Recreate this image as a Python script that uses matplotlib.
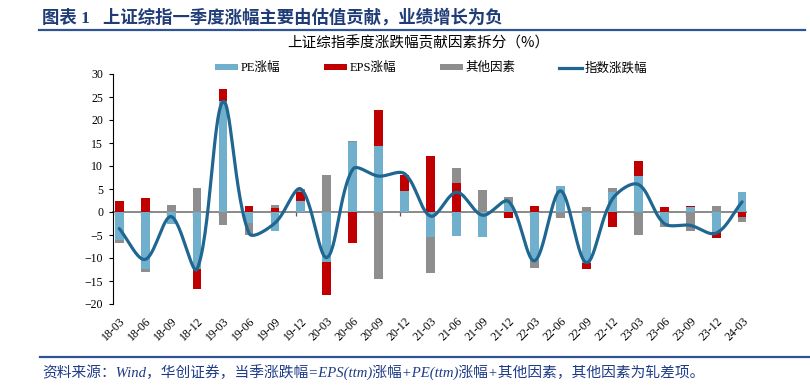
#!/usr/bin/env python3
"""
上证综指季度涨跌幅贡献因素拆分 - stacked bars + smoothed index line
"""

import numpy as np
import matplotlib
matplotlib.use('Agg')
import matplotlib.pyplot as plt
from matplotlib.lines import Line2D
from matplotlib.patches import Patch
from matplotlib.font_manager import FontProperties

# Quarter labels
quarters = ['18-03', '18-06', '18-09', '18-12', '19-03', '19-06', '19-09', '19-12',
            '20-03', '20-06', '20-09', '20-12', '21-03', '21-06', '21-09', '21-12',
            '22-03', '22-06', '22-09', '22-12', '23-03', '23-06', '23-09', '23-12',
            '24-03']

# Contribution of each factor (%)
pe_chg = [-6.1, -12.4, -2.5, -12.4, 24.2, -2.3, -4.1, 2.3, -10.8, 15.2, 14.3, 4.5,
          -5.4, -5.2, -5.5, 2.0, -10.7, 5.7, -11.0, 4.3, 7.9, -2.4, 1.0, -4.3, 4.3]
eps_chg = [2.5, 3.0, 0.1, -4.4, 2.6, 1.3, 0.8, 2.1, -7.3, -6.7, 7.9, 3.5,
           12.2, 6.2, 0.0, -1.3, 1.4, 0.0, -1.3, -3.3, 3.2, 1.0, 0.2, -1.3, -1.1]
other_chg = [-0.6, -0.7, 1.5, 5.2, -2.9, -2.6, 0.7, 0.5, 8.1, 0.2, -14.5, 0.0,
             -7.8, 3.3, 4.8, 1.3, -1.4, -1.3, 1.1, 1.0, -5.1, -0.8, -4.2, 1.2, -1.1]
index_chg = [-3.6, -10.3, -1.0, -12.4, 24.0, -4.6, -2.4, 5.0, -9.9, 9.3, 7.8, 8.3,
             -0.9, 4.3, -0.7, 2.3, -10.6, 4.6, -11.0, 2.8, 6.0, -2.5, -2.9, -4.6, 2.2]

# Colors
PE_COLOR = '#70B0CC'
EPS_COLOR = '#C00000'
OTHER_COLOR = '#8E8E8E'
LINE_COLOR = '#1F6791'
HEAD_BLUE = '#1F3C78'

CJK = ['Liberation Serif', 'Noto Sans CJK SC']

# screen scale used for smoothing (px per category, px per %)
PX_X, PX_Y = 26.0, 4.6


def smooth_line(x, y, n=30):
    """Excel-like smoothing: Bezier segments, tangents scaled by chord length."""
    P = np.column_stack([np.asarray(x, float) * PX_X, np.asarray(y, float) * PX_Y])
    P = np.vstack([P[0], P, P[-1]])
    t = np.linspace(0, 1, n)[:, None]
    out = []
    for i in range(1, len(P) - 2):
        p0, p1, p2, p3 = P[i - 1], P[i], P[i + 1], P[i + 2]
        d01 = np.linalg.norm(p1 - p0)
        d12 = np.linalg.norm(p2 - p1)
        d23 = np.linalg.norm(p3 - p2)
        c1 = p1 + (p2 - p0) * (d12 / max(d01 + d12, 1e-9)) / 3
        c2 = p2 - (p3 - p1) * (d12 / max(d12 + d23, 1e-9)) / 3
        seg = (1 - t) ** 3 * p1 + 3 * (1 - t) ** 2 * t * c1 + 3 * (1 - t) * t ** 2 * c2 + t ** 3 * p2
        out.append(seg)
    out = np.vstack(out)
    return out[:, 0] / PX_X, out[:, 1] / PX_Y


def main():
    fig = plt.figure(figsize=(8.1, 3.86), dpi=100)
    ax = fig.add_axes([113 / 810, 82 / 386, 633.5 / 810, 230 / 386])

    x = np.arange(len(quarters))
    width = 0.34

    # Stacked bars: positives stack upward, negatives downward
    pos_base = np.zeros(len(x))
    neg_base = np.zeros(len(x))
    for vals, color in [(pe_chg, PE_COLOR), (eps_chg, EPS_COLOR), (other_chg, OTHER_COLOR)]:
        vals = np.asarray(vals)
        bottoms = np.where(vals >= 0, pos_base, neg_base)
        ax.bar(x, vals, width=width, bottom=bottoms, color=color, linewidth=0, zorder=2)
        pos_base = pos_base + np.where(vals >= 0, vals, 0)
        neg_base = neg_base + np.where(vals < 0, vals, 0)

    # Smoothed index line
    sx, sy = smooth_line(x, index_chg)
    ax.plot(sx, sy, color=LINE_COLOR, lw=2.3, zorder=4, solid_capstyle='round')

    ax.set_xlim(-0.24, 24.17)
    ax.set_ylim(-20, 30)
    ax.set_yticks(np.arange(-20, 31, 5))
    ax.tick_params(axis='y', length=3, width=0.8, pad=4, labelsize=8.5)
    for lab in ax.get_yticklabels():
        lab.set_fontfamily('Liberation Serif')

    # Category labels at the bottom
    ax.set_xticks(x)
    ax.set_xticklabels(quarters, rotation=45, ha='right', va='top',
                       rotation_mode='anchor', fontfamily='Liberation Serif', fontsize=8.5)
    ax.tick_params(axis='x', length=0, pad=8)

    for side in ['top', 'right', 'bottom']:
        ax.spines[side].set_visible(False)
    ax.spines['left'].set_linewidth(0.8)

    # Zero axis line with tick marks
    zero_ax = ax.secondary_xaxis(0.4)
    zero_ax.set_xticks(x - width / 2)
    zero_ax.set_xticklabels([])
    zero_ax.tick_params(axis='x', length=3, width=0.9, color='#555555', direction='out')
    zero_ax.spines['bottom'].set_color('#808080')
    zero_ax.spines['bottom'].set_linewidth(1.3)
    zero_ax.spines['bottom'].set_zorder(3)

    # Legend
    handles = [
        Patch(facecolor=PE_COLOR, label='PE涨幅'),
        Patch(facecolor=EPS_COLOR, label='EPS涨幅'),
        Patch(facecolor=OTHER_COLOR, label='其他因素'),
        Line2D([0], [0], color=LINE_COLOR, lw=2.3, label='指数涨跌幅'),
    ]
    fig.legend(handles=handles, loc='center', bbox_to_anchor=(431 / 810, 1 - 68 / 386),
               ncol=4, frameon=False, prop=FontProperties(family=CJK, size=9),
               handlelength=1.85, handleheight=0.35, handletextpad=0.2,
               columnspacing=3.5, borderpad=0)

    # Heading, subtitle and footer
    fig.text(42 / 810, 1 - 18 / 386, '图表 1   上证综指一季度涨幅主要由估值贡献，业绩增长为负',
             family=CJK, fontsize=12.5, fontweight='bold', color=HEAD_BLUE,
             ha='left', va='center')
    fig.add_artist(Line2D([39 / 810, 805 / 810], [1 - 29.5 / 386] * 2,
                          color='#2F5496', lw=1.6, transform=fig.transFigure))
    fig.text(418 / 810, 1 - 43 / 386, '上证综指季度涨跌幅贡献因素拆分（%）',
             family=['Noto Sans CJK SC'], fontsize=10.5, color='black',
             ha='center', va='center')
    fig.add_artist(Line2D([40 / 810, 1.0], [1 - 357 / 386] * 2,
                          color='#2F5496', lw=1.6, transform=fig.transFigure))
    fig.text(42 / 810, 1 - 372.5 / 386,
             '资料来源：Wind，华创证券，当季涨跌幅=EPS(ttm)涨幅+PE(ttm)涨幅+其他因素，其他因素为轧差项。',
             family=CJK, style='italic', fontsize=10.6, color='#1F3C88',
             ha='left', va='center')

    fig.savefig('out.png', dpi=100)


if __name__ == '__main__':
    main()
